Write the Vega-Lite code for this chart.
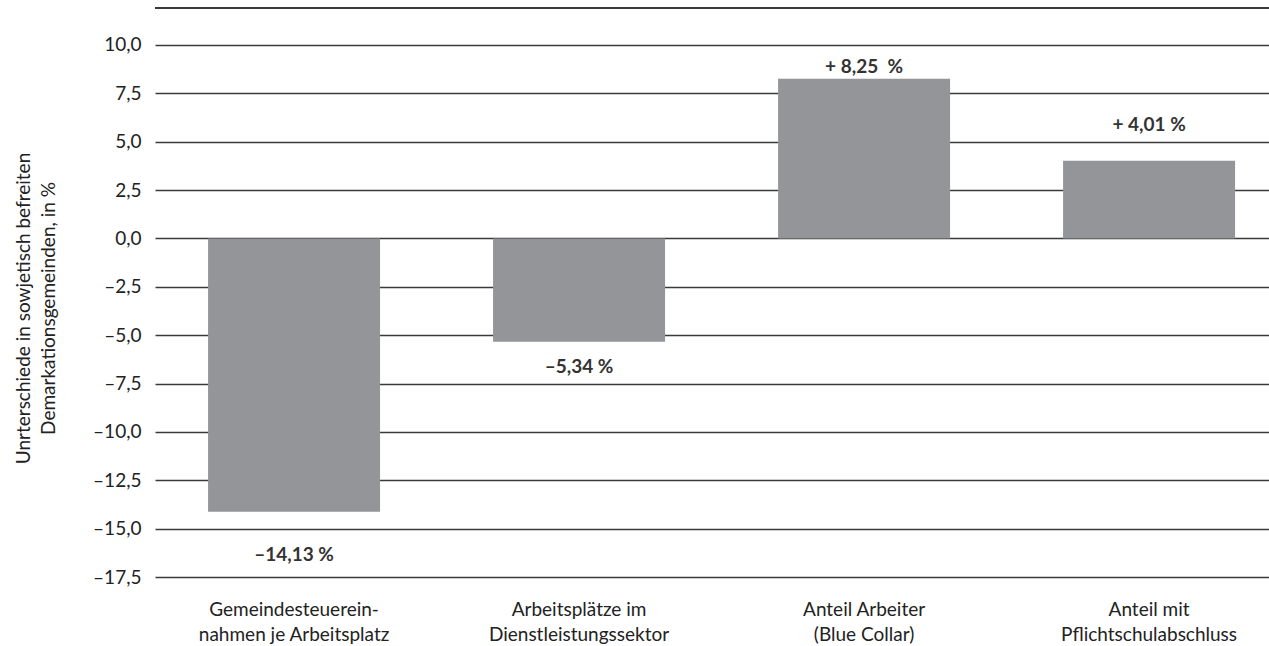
{
  "$schema": "https://vega.github.io/schema/vega-lite/v6.json",
  "width": 1114,
  "height": 569,
  "autosize": {"type": "none"},
  "padding": {"left": 155, "top": 8, "right": 0, "bottom": 69},
  "background": "white",
  "config": {
    "font": "Lato",
    "view": {"stroke": null}
  },
  "data": {
    "values": [
      {"kategorie": "Gemeindesteuerein-|nahmen je Arbeitsplatz", "wert": -14.13, "label": "–14,13 %"},
      {"kategorie": "Arbeitsplätze im|Dienstleistungssektor", "wert": -5.34, "label": "–5,34 %"},
      {"kategorie": "Anteil Arbeiter|(Blue Collar)", "wert": 8.25, "label": "+ 8,25\u00a0\u00a0%"},
      {"kategorie": "Anteil mit|Pflichtschulabschluss", "wert": 4.01, "label": "+ 4,01 %"}
    ]
  },
  "encoding": {
    "x": {
      "field": "kategorie",
      "type": "nominal",
      "sort": null,
      "scale": {"paddingInner": 0.3965, "paddingOuter": 0.1526, "align": 0.61},
      "axis": {
        "title": null,
        "labelAngle": 0,
        "labelExpr": "split(datum.label, '|')",
        "labelFontSize": 19,
        "labelColor": "#222",
        "labelPadding": 23,
        "labelLineHeight": 25,
        "labelLimit": 400,
        "ticks": false,
        "domain": false,
        "grid": false
      }
    },
    "y": {
      "field": "wert",
      "type": "quantitative",
      "scale": {"domain": [-17.5, 11.91], "nice": false, "zero": false},
      "axis": {
        "values": [10, 7.5, 5, 2.5, 0, -2.5, -5, -7.5, -10, -12.5, -15, -17.5],
        "labelExpr": "replace(replace(replace(format(datum.value, '.1f'), '.', ','), '-', '–'), '−', '–')",
        "title": ["Unrterschiede in sowjetisch befreiten", "Demarkationsgemeinden, in %"],
        "titleFontSize": 19,
        "titleFontWeight": "normal",
        "titleColor": "#222",
        "titlePadding": 34,
        "titleLineHeight": 25,
        "titleY": 300,
        "labelFontSize": 19,
        "labelColor": "#222",
        "labelPadding": 14,
        "ticks": false,
        "domain": false,
        "grid": true,
        "gridColor": "#3a3a3a",
        "gridWidth": 1.4
      }
    }
  },
  "layer": [
    {
      "mark": {"type": "bar", "color": "#939598"},
      "encoding": {"y2": {"datum": 0}}
    },
    {
      "mark": {"type": "rule", "color": "#3a3a3a", "strokeWidth": 2},
      "encoding": {"y": {"datum": 11.91}, "x": null}
    },
    {
      "transform": [{"filter": "datum.wert == 8.25"}],
      "mark": {"type": "text", "fontWeight": "bold", "fontSize": 19, "color": "#333", "dy": -12, "baseline": "middle"},
      "encoding": {"text": {"field": "label"}}
    },
    {
      "transform": [{"filter": "datum.wert == 4.01"}],
      "mark": {"type": "text", "fontWeight": "bold", "fontSize": 19, "color": "#333", "dy": -36, "baseline": "middle"},
      "encoding": {"text": {"field": "label"}}
    },
    {
      "transform": [{"filter": "datum.wert == -5.34"}],
      "mark": {"type": "text", "fontWeight": "bold", "fontSize": 19, "color": "#333", "dy": 25, "baseline": "middle"},
      "encoding": {"text": {"field": "label"}}
    },
    {
      "transform": [{"filter": "datum.wert == -14.13"}],
      "mark": {"type": "text", "fontWeight": "bold", "fontSize": 19, "color": "#333", "dy": 43, "baseline": "middle"},
      "encoding": {"text": {"field": "label"}}
    }
  ]
}
